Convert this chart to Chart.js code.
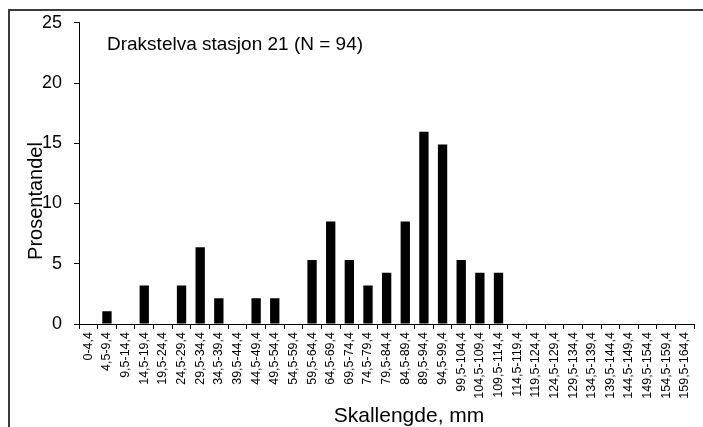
<!DOCTYPE html>
<html>
<head>
<meta charset="utf-8">
<script src="https://cdn.jsdelivr.net/npm/chart.js@4/dist/chart.umd.min.js"></script>
<style>
  html, body { margin: 0; padding: 0; background: #fff; }
  canvas { display: block; }
</style>
</head>
<body>
<canvas id="c" width="703" height="427"></canvas>
<script>
// Length classes (mm) and share of fish in each class (%), N = 94
const classes = [
  "0-4,4", "4,5-9,4", "9,5-14,4", "14,5-19,4", "19,5-24,4", "24,5-29,4",
  "29,5-34,4", "34,5-39,4", "39,5-44,4", "44,5-49,4", "49,5-54,4", "54,5-59,4",
  "59,5-64,4", "64,5-69,4", "69,5-74,4", "74,5-79,4", "79,5-84,4", "84,5-89,4",
  "89,5-94,4", "94,5-99,4", "99,5-104,4", "104,5-109,4", "109,5-114,4",
  "114,5-119,4", "119,5-124,4", "124,5-129,4", "129,5-134,4", "134,5-139,4",
  "139,5-144,4", "144,5-149,4", "149,5-154,4", "154,5-159,4", "159,5-164,4"
];
const percent = [
  0, 1.06, 0, 3.19, 0, 3.19,
  6.38, 2.13, 0, 2.13, 2.13, 0,
  5.32, 8.51, 5.32, 3.19, 4.26, 8.51,
  15.96, 14.89, 5.32, 4.26, 4.26,
  0, 0, 0, 0, 0,
  0, 0, 0, 0, 0
];
const yTicks = [0, 5, 10, 15, 20, 25];

const FONT = "'Liberation Sans', Arial, sans-serif";
const titleText = "Drakstelva stasjon 21 (N = 94)";
const xTitle = "Skallengde, mm";
const yTitle = "Prosentandel";

// Outer frame, station label and axis titles
const decor = {
  id: 'decor',
  afterDraw(chart) {
    const ctx = chart.ctx;
    const area = chart.chartArea;
    ctx.save();
    ctx.strokeStyle = '#3a3a3a';
    ctx.lineWidth = 2;
    ctx.beginPath();
    ctx.moveTo(9, 427);
    ctx.lineTo(9, 10);
    ctx.lineTo(703, 10);
    ctx.stroke();

    ctx.fillStyle = '#000';
    ctx.font = '19px ' + FONT;
    ctx.textAlign = 'left';
    ctx.textBaseline = 'middle';
    ctx.fillText(titleText, area.left + 28, 45);

    ctx.font = '21px ' + FONT;
    ctx.textAlign = 'center';
    ctx.textBaseline = 'alphabetic';
    ctx.fillText(xTitle, 409, 422);

    ctx.font = '20px ' + FONT;
    ctx.translate(42, 201);
    ctx.rotate(-Math.PI / 2);
    ctx.fillText(yTitle, 0, 0);
    ctx.restore();
  }
};

new Chart(document.getElementById('c'), {
  type: 'bar',
  data: {
    labels: classes,
    datasets: [{
      data: percent,
      backgroundColor: '#000',
      borderWidth: 0,
      categoryPercentage: 1,
      barPercentage: 0.5
    }]
  },
  options: {
    responsive: false,
    animation: false,
    events: [],
    layout: { padding: { left: 0, top: 22, right: 4, bottom: 0 } },
    plugins: { legend: { display: false }, tooltip: { enabled: false } },
    scales: {
      x: {
        offset: true,
        grid: { offset: true, drawOnChartArea: false, tickLength: 5, color: '#000' },
        border: { color: '#000', width: 1 },
        ticks: {
          autoSkip: false, maxRotation: 90, minRotation: 90, padding: 3,
          color: '#000', font: { family: FONT, size: 12.5 }
        },
        afterFit(scale) { scale.height = 103; }
      },
      y: {
        min: 0, max: 25,
        afterBuildTicks(scale) { scale.ticks = yTicks.map(v => ({ value: v })); },
        grid: { drawOnChartArea: false, tickLength: 5, color: '#000' },
        border: { color: '#000', width: 1 },
        ticks: { padding: 12, color: '#000', font: { family: FONT, size: 18 } },
        afterFit(scale) { scale.width = 79; }
      }
    }
  },
  plugins: [decor]
});
</script>
</body>
</html>
